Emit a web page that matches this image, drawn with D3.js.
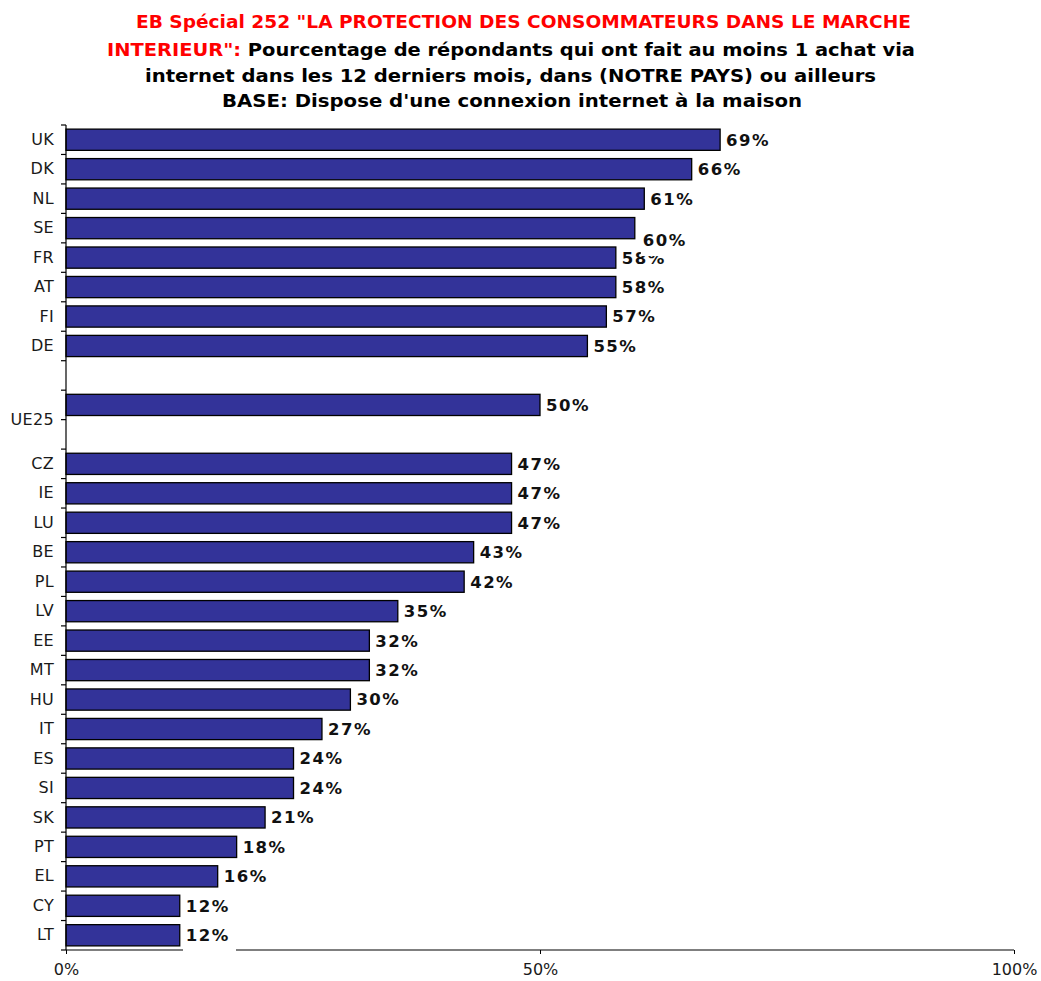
<!DOCTYPE html>
<html>
<head>
<meta charset="utf-8">
<script src="https://cdn.jsdelivr.net/npm/d3@7"></script>
<style>
  html, body { margin: 0; padding: 0; background: #fff; }
  svg { display: block; }
</style>
</head>
<body>
<svg id="chart" width="1041" height="981"></svg>
<script>
const categories = ["UK","DK","NL","SE","FR","AT","FI","DE","gap1","UE25","gap2","CZ","IE","LU","BE","PL","LV","EE","MT","HU","IT","ES","SI","SK","PT","EL","CY","LT"];
const values =     [69,  66,  61,  60,  58,  58,  57,  55,  null,  50,    null,  47,  47,  47,  43,  42,  35,  32,  32,  30,  27,  24,  24,  21,  18,  16,  12,  12];
const xTicks = [0, 50, 100];
const xTickLabels = ["0%", "50%", "100%"];
const titleLines = [
  [{t: "EB Spécial 252 \"LA PROTECTION DES CONSOMMATEURS DANS LE MARCHE", c: "#ff0000"}],
  [{t: "INTERIEUR\": ", c: "#ff0000"}, {t: "Pourcentage de répondants qui ont fait au moins 1 achat via", c: "#000"}],
  [{t: "internet dans les 12 derniers mois, dans (NOTRE PAYS) ou ailleurs", c: "#000"}],
  [{t: "BASE: Dispose d'une connexion internet à la maison", c: "#000"}]
];

const data = categories.map((c, i) => ({cat: c, val: values[i]}));

const svg = d3.select("#chart");
const mLeft = 66, mRight = 1014, mTop = 125, mBottom = 950;

const x = d3.scaleLinear().domain([0, 100]).range([mLeft, mRight]);
const y = d3.scaleBand().domain(categories).range([mTop, mBottom]).paddingInner(0.28).paddingOuter(0.14);
const step = y.step();

// Title (each line positioned by its left edge and width as in the original)
const titleX = [136, 107, 145, 222];
const titleW = [775, 808, 731, 580];
const titleY = [28, 56, 82, 107];
titleLines.forEach((line, i) => {
  const t = svg.append("text")
    .attr("x", titleX[i]).attr("y", titleY[i])
    .attr("font-family", "DejaVu Sans, Verdana, sans-serif")
    .attr("font-weight", "bold")
    .attr("font-size", 17.5)
    .attr("textLength", titleW[i])
    .attr("lengthAdjust", "spacingAndGlyphs");
  line.forEach(seg => t.append("tspan").attr("fill", seg.c).text(seg.t));
});

// Bars
svg.append("g").selectAll("rect")
  .data(data.filter(d => d.val != null))
  .join("rect")
  .attr("x", x(0))
  .attr("y", d => y(d.cat))
  .attr("width", d => x(d.val) - x(0))
  .attr("height", y.bandwidth())
  .attr("fill", "#333399")
  .attr("stroke", "#000")
  .attr("stroke-width", 1.3);

// Y axis (labels)
const yAxis = svg.append("g")
  .attr("transform", `translate(${mLeft},0)`)
  .call(d3.axisLeft(y).tickSize(0).tickPadding(12).tickFormat(d => d.startsWith("gap") ? "" : d));
yAxis.select(".domain").remove();
yAxis.selectAll("text")
  .attr("font-family", "DejaVu Sans, Verdana, sans-serif")
  .attr("font-size", 16)
  .attr("letter-spacing", 0.3)
  .attr("fill", "#1a1a1a");
// UE25 label sits on the band boundary below its bar
yAxis.selectAll(".tick").filter(d => d === "UE25")
  .select("text").attr("y", step / 2);

// Y axis line and boundary ticks
svg.append("line").attr("x1", mLeft).attr("x2", mLeft).attr("y1", mTop).attr("y2", mBottom)
  .attr("stroke", "#000").attr("stroke-width", 1.2);
svg.append("g").selectAll("line")
  .data(d3.range(categories.length + 1))
  .join("line")
  .attr("x1", mLeft - 5).attr("x2", mLeft)
  .attr("y1", i => mTop + i * step).attr("y2", i => mTop + i * step)
  .attr("stroke", "#000").attr("stroke-width", 1.2);

// X axis
const xAxis = svg.append("g")
  .attr("transform", `translate(0,${mBottom})`)
  .call(d3.axisBottom(x).tickValues(xTicks).tickSize(4).tickPadding(10).tickFormat((d, i) => xTickLabels[i]));
xAxis.select(".domain").attr("stroke", "#000").attr("stroke-width", 1.2).attr("d", `M${mLeft},0H${mRight}`);
xAxis.selectAll(".tick line").attr("stroke", "#000");
xAxis.selectAll("text")
  .attr("font-family", "DejaVu Sans, Verdana, sans-serif")
  .attr("font-size", 16)
  .attr("fill", "#1a1a1a");
// gap in axis line (white box from original)
svg.append("rect").attr("x", 183).attr("y", mBottom - 2).attr("width", 53).attr("height", 4).attr("fill", "#fff");

// Value labels
const labels = svg.append("g").selectAll("g")
  .data(data.filter(d => d.val != null))
  .join("g")
  .attr("class", d => "lbl lbl-" + d.cat);
labels.append("text")
  .attr("x", d => x(d.val) + 6)
  .attr("y", d => y(d.cat) + y.bandwidth() / 2)
  .attr("dy", "0.36em")
  .attr("font-family", "DejaVu Sans, Verdana, sans-serif")
  .attr("font-weight", "bold")
  .attr("font-size", 16.5)
  .attr("letter-spacing", 1.5)
  .attr("fill", "#111")
  .text(d => d.val + "%");

// SE label is displaced below its bar with a white background (as in the original)
const se = svg.select(".lbl-SE");
se.select("text").attr("x", d => x(d.val) + 8).attr("y", d => y(d.cat) + y.bandwidth() / 2 + 12);
const bb = se.select("text").node().getBBox();
se.insert("rect", "text").attr("x", bb.x - 2).attr("y", bb.y + 2).attr("width", bb.width + 4).attr("height", bb.height + 4).attr("fill", "#fff");
se.raise();
</script>
</body>
</html>
